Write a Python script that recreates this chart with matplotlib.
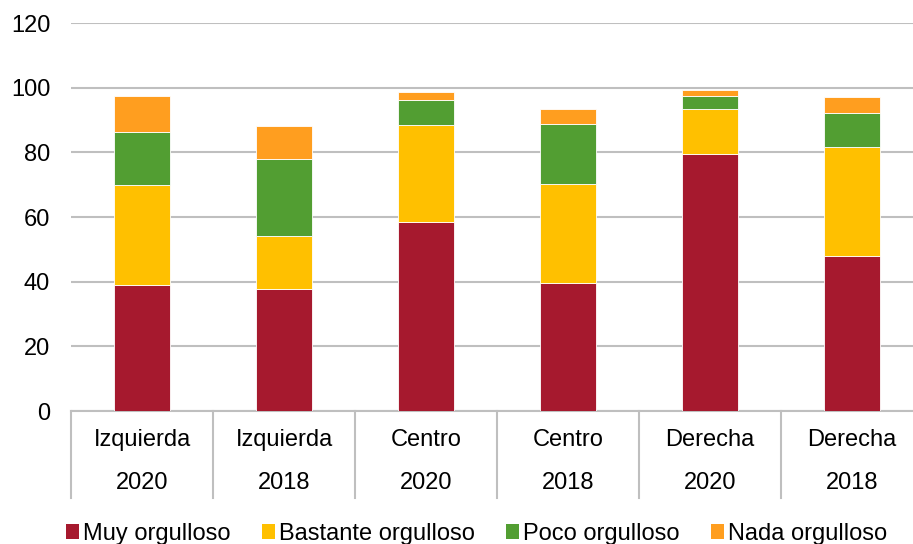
import numpy as np
import matplotlib.pyplot as plt
from matplotlib.patches import Patch

plt.rcParams['font.family'] = ['Liberation Sans', 'DejaVu Sans']

# data
groups = ["Izquierda", "Izquierda", "Centro", "Centro", "Derecha", "Derecha"]
years = ["2020", "2018", "2020", "2018", "2020", "2018"]
series_names = ["Muy orgulloso", "Bastante orgulloso", "Poco orgulloso", "Nada orgulloso"]
muy = [39.0, 37.7, 58.6, 39.6, 79.6, 48.0]
bastante = [30.9, 16.3, 29.7, 30.5, 13.7, 33.6]
poco = [16.5, 23.9, 8.0, 18.8, 4.0, 10.7]
nada = [10.9, 10.2, 2.5, 4.4, 2.1, 4.7]
colors = ["#A6192E", "#FFC000", "#529E32", "#FF9E1F"]

fig = plt.figure(figsize=(9.13, 5.44), dpi=100)
# plot area runs a little past the right edge of the image
ax = fig.add_axes([71 / 913, 133 / 544, 852 / 913, 388 / 544])

x = np.arange(len(groups))
bottom = np.zeros(len(groups))
for vals, col in zip([muy, bastante, poco, nada], colors):
    ax.bar(x, vals, width=0.40, bottom=bottom, color=col,
           edgecolor="#ffffff", linewidth=0.6, zorder=3)
    bottom += np.array(vals)

ax.set_xlim(-0.5, 5.5)
ax.set_ylim(0, 120)
ax.set_yticks(range(0, 121, 20))
ax.yaxis.grid(True, color="#BFBFBF", linewidth=1.5, zorder=0)
ax.tick_params(axis="y", length=0, labelsize=17, pad=15)
ax.set_xticks([])
for s in ["left", "right", "top"]:
    ax.spines[s].set_visible(False)
ax.spines["bottom"].set_color("#BFBFBF")
ax.spines["bottom"].set_linewidth(1.5)

# two-level category axis
tr = ax.get_xaxis_transform()
for xb in np.arange(-0.5, 5.6, 1.0):
    ax.plot([xb, xb], [0, -0.224], transform=tr, color="#BFBFBF",
            linewidth=1.5, clip_on=False)
for xi, g, yr in zip(x, groups, years):
    ax.text(xi, -0.075, g, transform=tr, ha="center", va="center", fontsize=17)
    ax.text(xi, -0.186, yr, transform=tr, ha="center", va="center", fontsize=17)

handles = [Patch(facecolor=c, edgecolor="none") for c in colors]
fig.legend(handles, series_names, loc="center", bbox_to_anchor=(0.522, 0.018),
           ncol=4, frameon=False, fontsize=17, handlelength=0.55,
           handleheight=0.6, handletextpad=0.15, columnspacing=1.35)

fig.savefig("out.png", dpi=100)
